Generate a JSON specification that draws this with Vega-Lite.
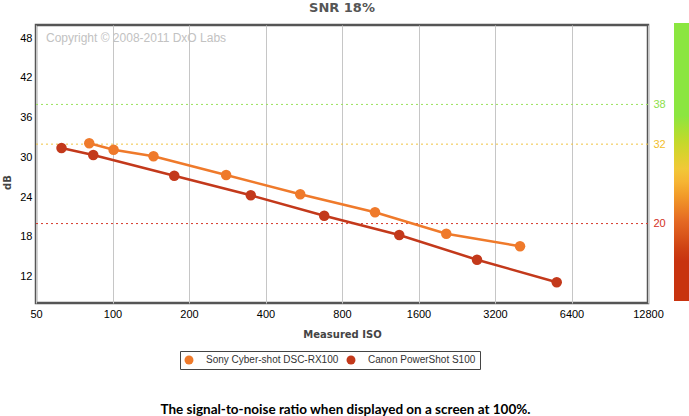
{
  "$schema": "https://vega.github.io/schema/vega-lite/v6.json",
  "padding": {"left": 0, "top": 0, "right": 0, "bottom": 4},
  "background": "white",
  "title": {
    "text": "The signal-to-noise ratio when displayed on a screen at 100%.",
    "orient": "bottom",
    "anchor": "middle",
    "font": "Lato",
    "fontSize": 13.5,
    "fontWeight": "bold",
    "color": "#000000",
    "offset": 32
  },
  "resolve": {
    "scale": {"color": "independent", "fill": "independent"},
    "legend": {"color": "independent", "fill": "independent"}
  },
  "vconcat": [
    {
      "width": 612,
      "height": 278,
      "title": {
        "text": "SNR 18%",
        "anchor": "middle",
        "font": "DejaVu Sans",
        "fontSize": 13,
        "fontWeight": "bold",
        "color": "#555555",
        "offset": 8
      },
      "data": {
        "values": [
          {"camera": "Sony Cyber-shot DSC-RX100", "iso": 81, "db": 32.13},
          {"camera": "Sony Cyber-shot DSC-RX100", "iso": 101, "db": 31.16},
          {"camera": "Sony Cyber-shot DSC-RX100", "iso": 145, "db": 30.16},
          {"camera": "Sony Cyber-shot DSC-RX100", "iso": 280, "db": 27.34},
          {"camera": "Sony Cyber-shot DSC-RX100", "iso": 548, "db": 24.42},
          {"camera": "Sony Cyber-shot DSC-RX100", "iso": 1079, "db": 21.7},
          {"camera": "Sony Cyber-shot DSC-RX100", "iso": 2058, "db": 18.47},
          {"camera": "Sony Cyber-shot DSC-RX100", "iso": 4015, "db": 16.57},
          {"camera": "Canon PowerShot S100", "iso": 63, "db": 31.42},
          {"camera": "Canon PowerShot S100", "iso": 84, "db": 30.36},
          {"camera": "Canon PowerShot S100", "iso": 175, "db": 27.23},
          {"camera": "Canon PowerShot S100", "iso": 350, "db": 24.27},
          {"camera": "Canon PowerShot S100", "iso": 681, "db": 21.19},
          {"camera": "Canon PowerShot S100", "iso": 1344, "db": 18.27},
          {"camera": "Canon PowerShot S100", "iso": 2719, "db": 14.54},
          {"camera": "Canon PowerShot S100", "iso": 5598, "db": 11.13}
        ]
      },
      "resolve": {"scale": {"stroke": "independent"}, "axis": {"y": "independent"}},
      "layer": [
        {
          "data": {"values": [{"level": 38}, {"level": 32}, {"level": 20}]},
          "mark": {"type": "rule", "strokeDash": [2, 3], "strokeWidth": 1},
          "encoding": {
            "y": {
              "field": "level",
              "type": "quantitative",
              "scale": {"domain": [8, 50], "nice": false, "zero": false},
              "axis": {
                "orient": "right",
                "values": [38, 32, 20],
                "grid": false,
                "title": null,
                "domain": false,
                "ticks": false,
                "labelPadding": 5,
                "labelFont": "Liberation Sans",
                "labelFontSize": 11,
                "labelColor": {
                  "condition": [
                    {"test": "datum.value == 38", "value": "#8ee04a"},
                    {"test": "datum.value == 32", "value": "#f2be2c"}
                  ],
                  "value": "#d3301e"
                }
              }
            },
            "stroke": {
              "field": "level",
              "type": "nominal",
              "scale": {"domain": [38, 32, 20], "range": ["#9ae35c", "#f0c440", "#d5392b"]},
              "legend": null
            }
          }
        },
        {
          "data": {"values": [{"level": 50}, {"level": 8}]},
          "mark": {"type": "point", "filled": true, "size": 0, "opacity": 1},
          "encoding": {
            "x": {"datum": 50, "type": "quantitative"},
            "y": {"field": "level", "type": "quantitative", "axis": null},
            "fill": {
              "field": "level",
              "type": "quantitative",
              "scale": {
                "type": "linear",
                "domain": [8, 14.7, 20.2, 27.3, 35.7, 50],
                "range": ["#c8330f", "#c8330f", "#e56a24", "#f8c53d", "#8be640", "#8be640"]
              },
              "legend": {
                "title": null,
                "orient": "none",
                "legendX": 638,
                "legendY": -2,
                "direction": "vertical",
                "gradientLength": 278,
                "gradientThickness": 15,
                "gradientStrokeWidth": 0,
                "gradientOpacity": 1,
                "labelExpr": "''",
                "labelFontSize": 1,
                "labelOffset": 0,
                "padding": 0
              }
            }
          }
        },
        {
          "data": {"values": [{"note": "Copyright © 2008-2011 DxO Labs"}]},
          "mark": {"type": "text", "align": "left", "baseline": "middle", "dx": 10, "font": "Liberation Sans", "fontSize": 12, "color": "#c2c2c2"},
          "encoding": {
            "x": {"datum": 50, "type": "quantitative"},
            "y": {"datum": 48, "type": "quantitative", "axis": null},
            "text": {"field": "note", "type": "nominal"}
          }
        },
        {
          "mark": {"type": "line", "strokeWidth": 2.5},
          "encoding": {
            "x": {
              "field": "iso",
              "type": "quantitative",
              "scale": {"type": "log", "base": 2, "domain": [50, 12800], "nice": false},
              "axis": {
                "title": "Measured ISO",
                "values": [50, 100, 200, 400, 800, 1600, 3200, 6400, 12800],
                "format": "d",
                "labelFlush": false,
                "labelOverlap": false,
                "labelPadding": 5,
                "titlePadding": 10
              }
            },
            "y": {
              "field": "db",
              "type": "quantitative",
              "scale": {"domain": [8, 50], "nice": false, "zero": false},
              "axis": {
                "orient": "left",
                "title": "dB",
                "values": [12, 18, 24, 30, 36, 42, 48],
                "labelPadding": 4,
                "titleAngle": -90,
                "titleX": -29,
                "titleY": 157,
                "titleAlign": "center",
                "titleBaseline": "middle"
              }
            },
            "stroke": {
              "field": "camera",
              "type": "nominal",
              "scale": {"domain": ["Sony Cyber-shot DSC-RX100", "Canon PowerShot S100"], "range": ["#ef7a2b", "#c3391b"]},
              "legend": null
            }
          }
        },
        {
          "mark": {"type": "point", "filled": true, "size": 110, "opacity": 1},
          "encoding": {
            "x": {"field": "iso", "type": "quantitative"},
            "y": {"field": "db", "type": "quantitative", "axis": null},
            "color": {
              "field": "camera",
              "type": "nominal",
              "scale": {"domain": ["Sony Cyber-shot DSC-RX100", "Canon PowerShot S100"], "range": ["#ef7a2b", "#c3391b"]},
              "legend": {
                "title": null,
                "orient": "none",
                "legendX": 144,
                "legendY": 326,
                "direction": "horizontal",
                "columns": 2,
                "symbolType": "circle",
                "symbolSize": 80,
                "symbolStrokeWidth": 0,
                "symbolOpacity": 1,
                "labelFont": "Liberation Sans",
                "labelFontSize": 10,
                "labelColor": "#333333",
                "labelOffset": 12,
                "columnPadding": 7,
                "padding": 4,
                "strokeColor": "#444444",
                "fillColor": "#ffffff",
                "cornerRadius": 0
              }
            }
          }
        }
      ]
    }
  ],
  "config": {
    "view": {"stroke": "#555555", "strokeWidth": 2.5},
    "axis": {
      "grid": true,
      "gridColor": "#c6c6c6",
      "gridWidth": 1,
      "domain": false,
      "ticks": false,
      "labelFont": "Liberation Sans",
      "labelFontSize": 11,
      "labelColor": "#000000",
      "titleFont": "DejaVu Sans",
      "titleFontSize": 10,
      "titleFontWeight": "bold",
      "titleColor": "#444444"
    }
  }
}
